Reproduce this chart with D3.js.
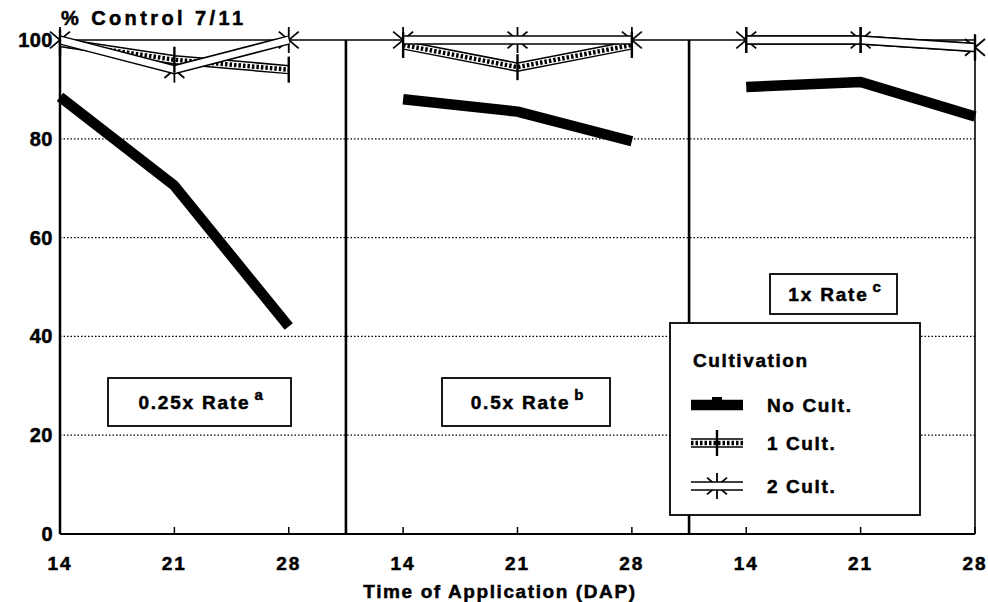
<!DOCTYPE html>
<html>
<head>
<meta charset="utf-8">
<script src="https://cdn.jsdelivr.net/npm/d3@7"></script>
<style>
  html, body { margin: 0; padding: 0; background: #fff; }
  svg { display: block; font-family: "Liberation Sans", Arial, sans-serif; font-weight: bold; }
  svg text { stroke: #000; stroke-width: 0.5; }
</style>
</head>
<body>
<svg id="chart" width="988" height="602"></svg>
<script>
// values (% of control, 7/11)
const days = [14, 21, 28];
const rateLabels = ['0.25x Rate', '0.5x Rate', '1x Rate'];
const rateNotes = ['a', 'b', 'c'];
const noCult = [[88.5, 70.5, 42], [88, 85.5, 79.5], [90.5, 91.5, 84.5]];
const oneCult = [[99.5, 96, 94], [99, 94.5, 99], [100, 100, 98.5]];
const twoCult = [[100, 94, 100], [100, 100, 100], [100, 100, 98.5]];
const yTicks = [0, 20, 40, 60, 80, 100];
const legendLabels = ['No Cult.', '1 Cult.', '2 Cult.'];

const panelShift = 21;
const pos = (p, d) => d + p * panelShift;

const svg = d3.select('#chart');
const x = d3.scaleLinear().domain([14, 70]).range([60, 975]);
const y = d3.scaleLinear().domain([0, 100]).range([534, 40]);
const x0 = x.range()[0], x1 = x.range()[1];

// dotted grid
svg.append('g')
  .selectAll('line')
  .data(yTicks.filter(v => v > 0 && v < 100))
  .join('line')
    .attr('x1', x0).attr('x2', x1)
    .attr('y1', d => y(d)).attr('y2', d => y(d))
    .attr('stroke', '#000')
    .attr('stroke-width', 1.3)
    .attr('stroke-dasharray', '1.5,2');

// frame
svg.append('line').attr('x1', x0).attr('x2', x1).attr('y1', y(100)).attr('y2', y(100))
  .attr('stroke', '#000').attr('stroke-width', 1.4);
svg.append('line').attr('x1', x1).attr('x2', x1).attr('y1', y(100)).attr('y2', y(0))
  .attr('stroke', '#000').attr('stroke-width', 1.6);
svg.append('line').attr('x1', x0).attr('x2', x1).attr('y1', y(0)).attr('y2', y(0))
  .attr('stroke', '#000').attr('stroke-width', 2);
svg.append('line').attr('x1', x0).attr('x2', x0).attr('y1', y(100)).attr('y2', y(0))
  .attr('stroke', '#000').attr('stroke-width', 2.5);

// panel dividers
svg.append('g')
  .selectAll('line')
  .data([1, 2])
  .join('line')
    .attr('x1', p => x(pos(p, 14) - 3.5)).attr('x2', p => x(pos(p, 14) - 3.5))
    .attr('y1', y(100)).attr('y2', y(0))
    .attr('stroke', '#000')
    .attr('stroke-width', 2.6);

// x ticks and labels
const xTickData = [];
rateLabels.forEach((r, p) => days.forEach(d => xTickData.push({ p, d })));

svg.append('g')
  .selectAll('line')
  .data(xTickData)
  .join('line')
    .attr('x1', t => x(pos(t.p, t.d))).attr('x2', t => x(pos(t.p, t.d)))
    .attr('y1', y(0)).attr('y2', y(0) - 7)
    .attr('stroke', '#000')
    .attr('stroke-width', 1.5);

svg.append('g')
  .selectAll('text')
  .data(xTickData)
  .join('text')
    .attr('x', t => x(pos(t.p, t.d)))
    .attr('y', 570)
    .attr('text-anchor', 'middle')
    .attr('font-size', 19)
    .attr('letter-spacing', 2)
    .text(t => t.d);

// y labels
svg.append('g')
  .selectAll('text')
  .data(yTicks)
  .join('text')
    .attr('x', 53)
    .attr('y', d => y(d) + 7)
    .attr('text-anchor', 'end')
    .attr('font-size', 20)
    .attr('letter-spacing', 0.5)
    .text(d => d);

svg.append('text')
  .attr('x', 61).attr('y', 25)
  .attr('font-size', 20)
  .attr('letter-spacing', 3.4)
  .text('% Control 7/11');

svg.append('text')
  .attr('x', 500).attr('y', 598)
  .attr('text-anchor', 'middle')
  .attr('font-size', 19)
  .attr('letter-spacing', 1.6)
  .text('Time of Application (DAP)');

// rate boxes
const rateBoxes = [
  { x: 108, y: 378, w: 183, h: 48 },
  { x: 442, y: 378, w: 168, h: 48 },
  { x: 770, y: 274, w: 127, h: 40 },
];

rateBoxes.forEach((b, i) => {
  const g = svg.append('g');
  g.append('rect')
    .attr('x', b.x).attr('y', b.y).attr('width', b.w).attr('height', b.h)
    .attr('fill', '#fff').attr('stroke', '#000').attr('stroke-width', 1.8);
  const t = g.append('text')
    .attr('x', b.x + b.w / 2 + 2)
    .attr('y', b.y + b.h / 2 + 7)
    .attr('text-anchor', 'middle')
    .attr('font-size', 19)
    .attr('letter-spacing', 1.8)
    .text(rateLabels[i]);
  t.append('tspan')
    .attr('dx', 4)
    .attr('dy', -9)
    .attr('font-size', 15)
    .text(rateNotes[i]);
});

// series
const line = d3.line().x(d => x(d.x)).y(d => y(d.y));
const pts = (vals, p) => days.map((d, i) => ({ x: pos(p, d), y: vals[p][i] }));

function drawNoCult(g, data) {
  g.append('path').datum(data)
    .attr('d', line).attr('fill', 'none')
    .attr('stroke', '#000').attr('stroke-width', 10.5)
    .attr('stroke-linejoin', 'round');
}

function drawBand(g, data, hatch) {
  g.append('path').datum(data)
    .attr('d', line).attr('fill', 'none')
    .attr('stroke', '#000').attr('stroke-width', 9.5)
    .attr('stroke-linejoin', 'miter');
  g.append('path').datum(data)
    .attr('d', line).attr('fill', 'none')
    .attr('stroke', '#fff').attr('stroke-width', 6.5)
    .attr('stroke-linejoin', 'miter');
  if (hatch) {
    g.append('path').datum(data)
      .attr('d', line).attr('fill', 'none')
      .attr('stroke', '#000').attr('stroke-width', 4.5)
      .attr('stroke-dasharray', '2.5,2');
  }
}

function tickMarker(g, cx, cy) {
  g.append('line')
    .attr('x1', cx).attr('x2', cx)
    .attr('y1', cy - 13).attr('y2', cy + 13)
    .attr('stroke', '#000').attr('stroke-width', 2.4);
}

function starMarker(g, cx, cy) {
  [90, 40, 140].forEach(a => {
    const r = 13, t = a * Math.PI / 180;
    g.append('line')
      .attr('x1', cx - r * Math.cos(t)).attr('x2', cx + r * Math.cos(t))
      .attr('y1', cy - r * Math.sin(t)).attr('y2', cy + r * Math.sin(t))
      .attr('stroke', '#000').attr('stroke-width', 1.8);
  });
}

function squareMarker(g, cx, cy) {
  g.append('rect')
    .attr('x', cx - 5).attr('y', cy - 8).attr('width', 10).attr('height', 12)
    .attr('fill', '#000');
}

const series = svg.append('g');
rateLabels.forEach((r, p) => {
  const g = series.append('g');
  drawNoCult(g, pts(noCult, p));
  pts(twoCult, p).forEach(d => starMarker(g, x(d.x), y(d.y)));
  drawBand(g, pts(oneCult, p), true);
  drawBand(g, pts(twoCult, p), false);
  pts(oneCult, p).forEach(d => tickMarker(g, x(d.x), y(d.y)));
});

// legend
const legend = svg.append('g');
legend.append('rect')
  .attr('x', 670).attr('y', 323).attr('width', 250).attr('height', 192)
  .attr('fill', '#fff').attr('stroke', '#000').attr('stroke-width', 1.8);
legend.append('text')
  .attr('x', 693).attr('y', 367)
  .attr('font-size', 19)
  .attr('letter-spacing', 1.6)
  .text('Cultivation');

const legendRows = [405, 443, 486];

legendLabels.forEach((lab, i) => {
  const g = legend.append('g');
  const cy = y.invert(legendRows[i]);
  const seg = [{ x: x.invert(691), y: cy }, { x: x.invert(743), y: cy }];
  const mx = 717, my = legendRows[i];
  if (i === 0) { drawNoCult(g, seg); squareMarker(g, mx, my); }
  if (i === 1) { drawBand(g, seg, true); tickMarker(g, mx, my); }
  if (i === 2) { starMarker(g, mx, my); drawBand(g, seg, false); }
  g.append('text')
    .attr('x', 767).attr('y', legendRows[i] + 7)
    .attr('font-size', 19)
    .attr('letter-spacing', 1.6)
    .text(lab);
});
</script>
</body>
</html>
